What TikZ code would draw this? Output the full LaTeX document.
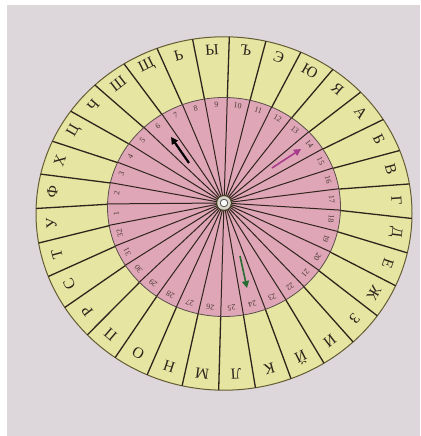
\documentclass[tikz,border=0pt]{standalone}
\usepackage{fontspec}
\setmainfont{Liberation Serif}
\usetikzlibrary{arrows.meta}
\definecolor{bgc}{RGB}{221,215,219}
\definecolor{ringc}{RGB}{231,229,162}
\definecolor{pinkc}{RGB}{222,166,183}
\definecolor{inkc}{RGB}{48,36,28}
\definecolor{rimc}{RGB}{100,92,50}
\definecolor{magc}{RGB}{168,60,140}
\definecolor{grnc}{RGB}{40,110,50}
\newcommand\wpt[2]{({224+#2*cos(#1)},{233+0.94*#2*sin(#1)-#2/100*#2/100*2.97})}
\tikzset{
  spoke/.style={draw=inkc, line width=1.3pt},
  ispoke/.style={draw=inkc, line width=1pt},
  letterlbl/.style={font=\fontsize{15.5}{15.5}\selectfont, text=inkc, inner sep=0pt},
  numlbl/.style={font=\fontsize{8}{8}\selectfont, text=inkc!85!pinkc, inner sep=0pt},
  arr/.style={line width=2.2pt, -{Triangle[length=7pt,width=7pt]}}
}
\begin{document}
\begin{tikzpicture}[x=1pt,y=1pt]
\useasboundingbox (0,0) rectangle (420,436);
\fill[white] (0,0) rectangle (420,436);
\fill[bgc] (7,0) rectangle (420,431);
% outer disc
\filldraw[fill=ringc, draw=rimc, line width=1pt] (224,222.5) ellipse [x radius=188, y radius=176.7];
\foreach \k in {1,...,32}{
  \pgfmathsetmacro\t{184-(\k-1)*11.25+5.625}
  \draw[spoke] \wpt{\t}{100} -- \wpt{\t}{188};
}
% letters
\foreach \k/\l in {1/У,2/Ф,3/Х,4/Ц,5/Ч,6/Ш,7/Щ,8/Ь,9/Ы,10/Ъ,11/Э,12/Ю,13/Я,14/А,15/Б,16/В,17/Г,18/Д,19/Е,20/Ж,21/З,22/И,23/Й,24/К,25/Л,26/М,27/Н,28/О,29/П,30/Р,31/С,32/Т}{
  \pgfmathsetmacro\t{184-(\k-1)*11.25}
  \pgfmathsetmacro\r{\t-90}
  \node[letterlbl, rotate=\r] (L\k) at \wpt{\t}{173} {\l};
}
% pink disc
\filldraw[fill=pinkc, draw=inkc!80, line width=0.8pt] (224,229) ellipse [x radius=116.5, y radius=109.5];
\coordinate (hole) at (224,233);
\foreach \k in {1,...,32}{
  \pgfmathsetmacro\t{184-(\k-1)*11.25+5.625}
  \draw[ispoke] (hole) -- \wpt{\t}{116.5};
}
\foreach \k in {1,...,32}{
  \pgfmathsetmacro\t{184-(\k-1)*11.25}
  \pgfmathsetmacro\r{\t-90}
  \node[numlbl, rotate=\r] (N\k) at \wpt{\t}{108} {\k};
}
% grommet
\fill[rimc!70!black] (hole) circle (8);
\fill[rimc!25!white] (hole) circle (6.8);
\fill[inkc!80] (hole) circle (4.2);
\fill[white!85!bgc] (hole) circle (3.2);
% arrows
\coordinate (ba1) at (189,273);
\coordinate (ba2) at (171,299);
\draw[arr, draw=black] (ba1) -- (ba2);
\coordinate (ma1) at (272,268);
\coordinate (ma2) at (301,287);
\draw[arr, draw=magc, line width=1.6pt] (ma1) -- (ma2);
\coordinate (ga1) at (240,180);
\coordinate (ga2) at (247,148);
\draw[arr, draw=grnc, line width=1.6pt] (ga1) -- (ga2);
\end{tikzpicture}
\end{document}
